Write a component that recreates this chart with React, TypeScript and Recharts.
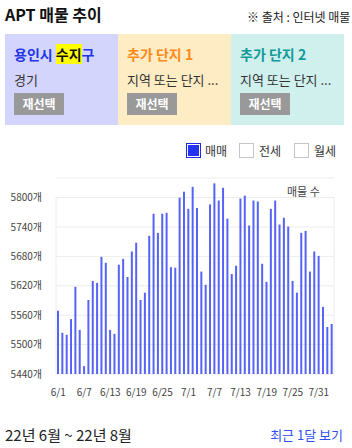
import React from 'react';
import { BarChart, Bar, XAxis, YAxis, CartesianGrid, ReferenceLine } from 'recharts';

const DATES = [
  '6/1', '6/2', '6/3', '6/4', '6/5', '6/6', '6/7', '6/8', '6/9', '6/10',
  '6/11', '6/12', '6/13', '6/14', '6/15', '6/16', '6/17', '6/18', '6/19', '6/20',
  '6/21', '6/22', '6/23', '6/24', '6/25', '6/26', '6/27', '6/28', '6/29', '6/30',
  '7/1', '7/2', '7/3', '7/4', '7/5', '7/6', '7/7', '7/8', '7/9', '7/10',
  '7/11', '7/12', '7/13', '7/14', '7/15', '7/16', '7/17', '7/18', '7/19', '7/20',
  '7/21', '7/22', '7/23', '7/24', '7/25', '7/26', '7/27', '7/28', '7/29', '7/30',
  '7/31', '8/1', '8/2', '8/3',
];

const COUNTS = [
  5569, 5524, 5520, 5552, 5618, 5530, 5456, 5591, 5630, 5626,
  5679, 5667, 5530, 5522, 5663, 5675, 5638, 5690, 5708, 5591,
  5606, 5722, 5767, 5728, 5767, 5769, 5658, 5657, 5800, 5812,
  5777, 5822, 5779, 5649, 5622, 5786, 5829, 5794, 5820, 5757,
  5644, 5661, 5798, 5804, 5743, 5794, 5792, 5665, 5628, 5777,
  5794, 5745, 5759, 5741, 5630, 5606, 5728, 5732, 5649, 5690,
  5681, 5577, 5536, 5542,
];

const Y_TICKS = [5440, 5500, 5560, 5620, 5680, 5740, 5800];

const CARDS = [
  { title: '용인시 수지구', sub: '경기', color: '#2336e8', bg: '#d3d5fc' },
  { title: '추가 단지 1', sub: '지역 또는 단지 ...', color: '#ff8a1c', bg: '#feecc4' },
  { title: '추가 단지 2', sub: '지역 또는 단지 ...', color: '#139a98', bg: '#d0f0ee' },
];

const LEGEND = [
  { label: '매매', on: true, box: 186, text: 205 },
  { label: '전세', on: false, box: 239, text: 259 },
  { label: '월세', on: false, box: 294, text: 314 },
];

const data = DATES.map((d, i) => ({ date: d, count: COUNTS[i] }));

const FONT = '"Noto Sans CJK KR", "Noto Sans", sans-serif';

function CardTitle({ text, color }: { text: string; color: string }) {
  if (text === '용인시 수지구') {
    return (
      <span style={{ color }}>
        용인시 <span style={{ background: '#ffff00', color: '#111' }}>수지</span>구
      </span>
    );
  }
  return <span style={{ color }}>{text}</span>;
}

export default function App() {
  return (
    <div
      style={{
        position: 'absolute',
        left: 0,
        top: 0,
        width: 352,
        height: 448,
        overflow: 'hidden',
        background: '#fff',
        fontFamily: FONT,
        color: '#222',
      }}
    >
      <div style={{ position: 'absolute', left: 5, top: 3, fontSize: 16, fontWeight: 700, lineHeight: '22px', color: '#111' }}>
        APT 매물 추이
      </div>
      <div style={{ position: 'absolute', left: 247, top: 8, fontSize: 12, lineHeight: '18px', whiteSpace: 'nowrap', color: '#222' }}>
        ※ 출처 : 인터넷 매물
      </div>

      {CARDS.map((c, i) => (
        <div
          key={i}
          style={{
            position: 'absolute',
            left: 5 + i * 113,
            top: 34,
            width: 113,
            height: 91,
            background: c.bg,
            overflow: 'hidden',
          }}
        >
          <div style={{ position: 'absolute', left: 9, top: 11, fontSize: 14, fontWeight: 700, lineHeight: '18px', whiteSpace: 'nowrap' }}>
            <CardTitle text={c.title} color={c.color} />
          </div>
          <div style={{ position: 'absolute', left: 9, top: 37, fontSize: 13, lineHeight: '18px', whiteSpace: 'nowrap', color: '#333' }}>
            {c.sub}
          </div>
          <div
            style={{
              position: 'absolute',
              left: 9,
              top: 59,
              width: 50,
              height: 22,
              background: '#999',
              color: '#fff',
              fontSize: 12,
              fontWeight: 700,
              lineHeight: '22px',
              textAlign: 'center',
            }}
          >
            재선택
          </div>
        </div>
      ))}

      {LEGEND.map((l) => (
        <React.Fragment key={l.label}>
          <div
            style={{
              position: 'absolute',
              left: l.box,
              top: 143,
              width: 13,
              height: 13,
              border: l.on ? '1px solid #1a2ae6' : '1px solid #c4c4cc',
              background: l.on ? '#2233f2' : '#fff',
              boxShadow: l.on ? 'inset 0 0 0 1px #fff' : 'none',
            }}
          />
          <div style={{ position: 'absolute', left: l.text, top: 142, fontSize: 12, lineHeight: '17px', color: '#333' }}>
            {l.label}
          </div>
        </React.Fragment>
      ))}

      <div style={{ position: 'absolute', left: 287, top: 184, fontSize: 11, lineHeight: '15px', color: '#444' }}>
        매물 수
      </div>

      <div style={{ position: 'absolute', left: 0, top: 170, width: 352, height: 240 }}>
        <BarChart width={352} height={240} data={data} margin={{ top: 8, right: 18, left: 0, bottom: 6 }}>
          <CartesianGrid vertical={false} stroke="#ececec" />
          <XAxis
            dataKey="date"
            interval={5}
            tickLine={false}
            axisLine={false}
            tickMargin={9}
            height={30}
            tick={{ fontSize: 10, fill: '#444' }}
          />
          <YAxis
            domain={[5440, 5840]}
            ticks={Y_TICKS}
            width={56}
            tickLine={false}
            axisLine={false}
            tickMargin={8}
            tick={{ fontSize: 10, fill: '#444' }}
            tickFormatter={(v: number) => `${v}개`}
          />
          <ReferenceLine
            segment={[{ x: DATES[0], y: 5440 }, { x: DATES[0], y: 5800 }]}
            position="start"
            stroke="#ececec"
          />
          <ReferenceLine
            segment={[{ x: DATES[DATES.length - 1], y: 5440 }, { x: DATES[DATES.length - 1], y: 5800 }]}
            position="end"
            stroke="#ececec"
          />
          <Bar dataKey="count" fill="#5563f6" barSize={2} isAnimationActive={false} />
        </BarChart>
      </div>

      <div style={{ position: 'absolute', left: 5, top: 424, fontSize: 15, lineHeight: '21px', color: '#222', whiteSpace: 'nowrap' }}>
        22년 6월 ~ 22년 8월
      </div>
      <div style={{ position: 'absolute', right: 9, top: 426, fontSize: 13, lineHeight: '18px', color: '#2f4ff0', whiteSpace: 'nowrap' }}>
        최근 1달 보기
      </div>
    </div>
  );
}
